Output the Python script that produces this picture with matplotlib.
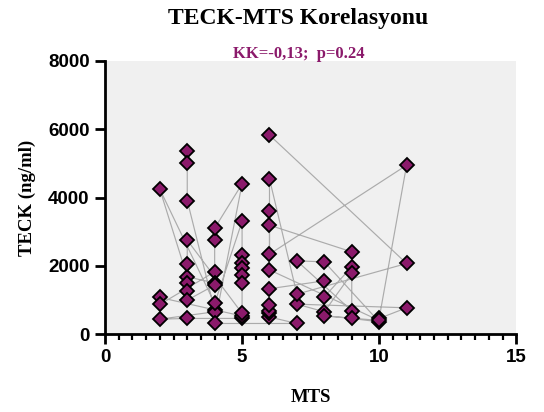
import matplotlib
matplotlib.use("Agg")
import matplotlib.pyplot as plt
from matplotlib.ticker import MultipleLocator

# MTS and TECK values in row order (lines join consecutive rows)
mts = [3, 3, 3, 4, 4, 2, 3, 5, 5, 2, 2, 4, 4, 3, 2, 4,
       5, 5, 5, 5, 5, 5, 5, 3, 3, 3, 3, 3, 4, 4, 4, 5,
       4, 7, 6, 6, 6, 6, 6, 8, 8, 9, 9, 8, 7, 11, 10, 11,
       6, 6, 9, 9, 7, 8, 10, 9, 8, 10, 6, 6, 6, 7, 11, 6]
teck = [5366, 5006, 3913, 703, 654, 439, 459, 460, 530, 1074, 869, 1825, 1500, 1678, 4245, 898,
        3300, 2330, 2090, 1940, 1730, 1500, 610, 2752, 2049, 1483, 1269, 995, 1434, 2752, 3103, 4400,
        312, 312, 500, 610, 690, 849, 1330, 1561, 1093, 1971, 1776, 654, 878, 771, 460, 4947,
        2342, 3190, 2410, 683, 2146, 2117, 360, 459, 537, 400, 1880, 3620, 4546, 1171, 2069, 5830]

title = "TECK-MTS Korelasyonu"
subtitle = "KK=-0,13;  p=0.24"
purple = "#8b1a6b"

fig = plt.figure(figsize=(5.44, 4.12), dpi=100)
ax = fig.add_axes([0.193, 0.189, 0.756, 0.663])
ax.set_facecolor("#f0f0f0")

ax.plot(mts, teck, color="#ababab", lw=0.85, zorder=2)
ax.plot(mts, teck, ls="none", marker="D", ms=7.3, mfc=purple, mec="black",
        mew=1.3, zorder=3, clip_on=False)

ax.set_xlim(0, 15)
ax.set_ylim(0, 8000)
ax.xaxis.set_major_locator(MultipleLocator(5))
ax.xaxis.set_minor_locator(MultipleLocator(0.5))
ax.yaxis.set_major_locator(MultipleLocator(2000))

for s in ["top", "right"]:
    ax.spines[s].set_visible(False)
for s in ["left", "bottom"]:
    ax.spines[s].set_linewidth(2)

ax.tick_params(which="major", length=7, width=2, direction="out", pad=4)
ax.tick_params(which="minor", length=4.5, width=1.6, direction="out")
for lab in ax.get_xticklabels() + ax.get_yticklabels():
    lab.set_fontfamily("Liberation Sans")
    lab.set_fontweight("bold")
    lab.set_fontsize(13.5)

ax.set_xlabel("MTS", fontfamily="Liberation Serif", fontweight="bold",
              fontsize=13.5, labelpad=16)
ax.set_ylabel("TECK (ng/ml)", fontfamily="Liberation Serif", fontweight="bold",
              fontsize=13.5, labelpad=9)

fig.text(0.548, 0.955, title, ha="center", va="center", fontfamily="Liberation Serif",
         fontweight="bold", fontsize=17)
fig.text(0.55, 0.868, subtitle, ha="center", va="center", fontfamily="Liberation Serif",
         fontweight="bold", fontsize=12, color=purple)

fig.savefig("out.png", dpi=100)
